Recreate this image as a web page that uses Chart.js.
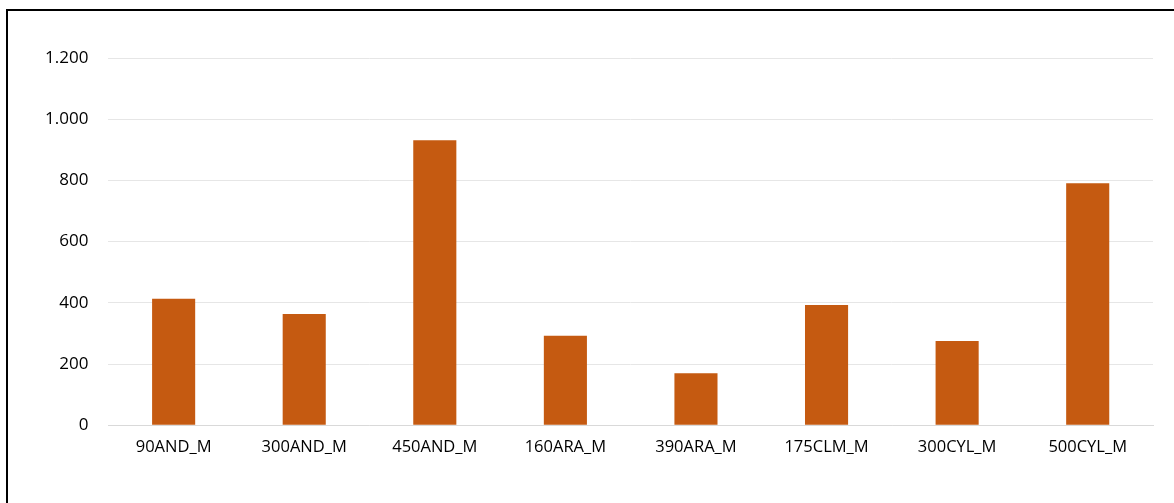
<!DOCTYPE html>
<html>
<head>
<meta charset="utf-8">
<script src="https://cdn.jsdelivr.net/npm/chart.js@4.4.1/dist/chart.umd.min.js"></script>
<style>
  html, body { margin: 0; padding: 0; background: #fff; }
  body { width: 1174px; height: 503px; position: relative; overflow: hidden; }
  #frame {
    position: absolute; left: 6px; top: 9px; width: 1200px; height: 520px;
    border-left: 2px solid #000; border-top: 2px solid #000;
  }
  #wrap { position: absolute; left: 0; top: 0; width: 1174px; height: 503px; }
</style>
</head>
<body>
<div id="frame"></div>
<div id="wrap"><canvas id="barChart"></canvas></div>
<script>
// Chart data
const categories = ['90AND_M', '300AND_M', '450AND_M', '160ARA_M', '390ARA_M', '175CLM_M', '300CYL_M', '500CYL_M'];
const values = [413, 363, 931, 292, 170, 393, 275, 791];
const yTicks = [0, 200, 400, 600, 800, 1000, 1200];

// European style thousands separator (1.200)
function formatNumber(v) {
    return String(v).replace(/\B(?=(\d{3})+(?!\d))/g, '.');
}

const ctx = document.getElementById('barChart').getContext('2d');

new Chart(ctx, {
    type: 'bar',
    data: {
        labels: categories,
        datasets: [{
            data: values,
            backgroundColor: '#C55A11',
            borderWidth: 0,
            categoryPercentage: 1,
            barPercentage: 0.33
        }]
    },
    options: {
        responsive: true,
        maintainAspectRatio: false,
        animation: false,
        layout: {
            padding: { left: 25, right: 21, top: 58, bottom: 34 }
        },
        plugins: {
            legend: { display: false },
            tooltip: { enabled: false }
        },
        scales: {
            x: {
                grid: { display: false, drawTicks: false },
                border: { display: true, color: '#d9d9d9', width: 1 },
                ticks: {
                    color: '#000',
                    padding: 12,
                    font: { family: 'Open Sans', size: 16.5 }
                }
            },
            y: {
                min: 0,
                max: 1200,
                afterBuildTicks: axis => {
                    axis.ticks = yTicks.map(v => ({ value: v }));
                },
                grid: { color: '#e6e6e6', drawTicks: false, lineWidth: 1 },
                border: { display: false },
                ticks: {
                    color: '#000',
                    padding: 20,
                    font: { family: 'Open Sans', size: 17 },
                    callback: v => formatNumber(v)
                }
            }
        }
    }
});
</script>
</body>
</html>
